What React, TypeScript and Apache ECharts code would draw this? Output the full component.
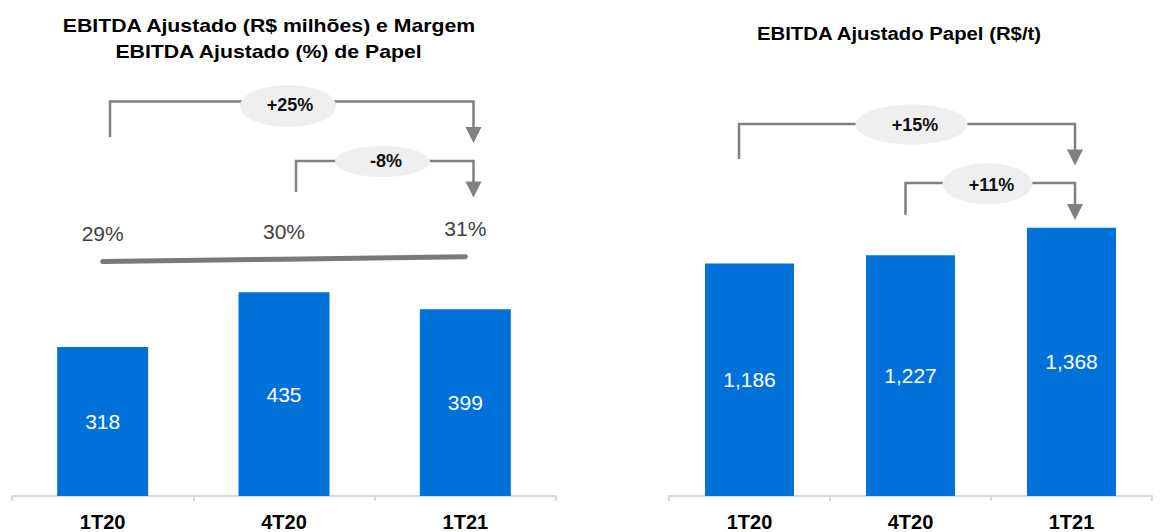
import React, { useEffect, useRef } from "react";
import * as echarts from "echarts";

const categories = ["1T20", "4T20", "1T21"];
const ebitdaValues = [318, 435, 399];
const marginValues = [29, 30, 31];
const perTonValues = [1186, 1227, 1368];

const leftTitleLines = ["EBITDA Ajustado (R$ milhões) e Margem", "EBITDA Ajustado (%) de Papel"];
const rightTitle = "EBITDA Ajustado Papel (R$/t)";
const leftChanges = ["+25%", "-8%"];
const rightChanges = ["+15%", "+11%"];

const FONT = '"Liberation Sans", Arial, Helvetica, sans-serif';
const BAR_COLOR = "#0071D9";
const GREY = "#808080";
const ELLIPSE = "#EFEFEF";

type Bracket = {
  x1: number; y1: number; x2: number; yh: number; yArrow: number;
  cx: number; cy: number; rx: number; ry: number; tx: number; ty: number; text: string;
};

function bracketEls(b: Bracket): any[] {
  return [
    {
      type: "polyline",
      z: 10,
      shape: { points: [[b.x1, b.y1], [b.x1, b.yh], [b.x2, b.yh], [b.x2, b.yArrow + 1]] },
      style: { stroke: GREY, lineWidth: 2.5, fill: null },
    },
    {
      type: "polygon",
      z: 10,
      shape: { points: [[b.x2 - 8, b.yArrow], [b.x2 + 8, b.yArrow], [b.x2, b.yArrow + 16]] },
      style: { fill: GREY },
    },
    {
      type: "ellipse",
      z: 11,
      shape: { cx: b.cx, cy: b.cy, rx: b.rx, ry: b.ry },
      style: { fill: ELLIPSE },
    },
    {
      type: "text",
      z: 12,
      x: b.tx,
      y: b.ty,
      style: {
        text: b.text,
        fill: "#111",
        font: `bold 18px ${FONT}`,
        textAlign: "center",
        textVerticalAlign: "middle",
      },
    },
  ];
}

export default function App() {
  const ref = useRef<HTMLDivElement>(null);

  useEffect(() => {
    document.body.style.margin = "0";
    if (!ref.current) return;
    const chart = echarts.init(ref.current, null, { renderer: "svg" });

    const xAxisCommon = {
      type: "category" as const,
      data: categories,
      axisLine: { show: true, lineStyle: { color: "#D9D9D9", width: 2 } },
      axisTick: { show: true, length: 5, lineStyle: { color: "#D9D9D9", width: 2 } },
      axisLabel: {
        fontSize: 20,
        fontWeight: "bold",
        color: "#000",
        fontFamily: FONT,
        margin: 16,
      },
      splitLine: { show: false },
    };

    const brackets: Bracket[] = [
      { x1: 110, y1: 137, x2: 473.5, yh: 101.5, yArrow: 127, cx: 288, cy: 106, rx: 48, ry: 21, tx: 290, ty: 104.5, text: leftChanges[0] },
      { x1: 296, y1: 192, x2: 473.5, yh: 161, yArrow: 181.5, cx: 382.5, cy: 161.5, rx: 47.5, ry: 15.5, tx: 386, ty: 160.5, text: leftChanges[1] },
      { x1: 739, y1: 159, x2: 1075, yh: 124, yArrow: 149.5, cx: 911.5, cy: 124.5, rx: 56, ry: 20, tx: 915, ty: 124.5, text: rightChanges[0] },
      { x1: 905.5, y1: 215, x2: 1075, yh: 183, yArrow: 204, cx: 987.5, cy: 183.8, rx: 45, ry: 20.5, tx: 991.5, ty: 184.5, text: rightChanges[1] },
    ];

    const titleEl = (text: string, x: number, y: number, sx: number) => ({
      type: "text",
      x,
      y,
      scaleX: sx,
      style: {
        text,
        fill: "#000",
        font: `bold 18px ${FONT}`,
        textAlign: "center",
        textVerticalAlign: "middle",
      },
    });

    chart.setOption({
      animation: false,
      backgroundColor: "#fff",
      grid: [
        { left: 12, width: 544, top: 90, bottom: 32, containLabel: false },
        { left: 669, width: 483, top: 90, bottom: 32, containLabel: false },
      ],
      xAxis: [
        { ...xAxisCommon, gridIndex: 0 },
        { ...xAxisCommon, gridIndex: 1 },
      ],
      yAxis: [
        { type: "value", gridIndex: 0, min: 0, max: 867, show: false, splitLine: { show: false } },
        { type: "value", gridIndex: 0, min: -65.68, max: 98.32, show: false, splitLine: { show: false } },
        { type: "value", gridIndex: 1, min: 0, max: 2070, show: false, splitLine: { show: false } },
      ],
      series: [
        {
          type: "bar",
          xAxisIndex: 0,
          yAxisIndex: 0,
          data: ebitdaValues,
          barWidth: 91,
          itemStyle: { color: BAR_COLOR },
          label: {
            show: true,
            position: "inside",
            color: "#fff",
            fontSize: 21,
            fontFamily: FONT,
          },
        },
        {
          type: "line",
          xAxisIndex: 0,
          yAxisIndex: 1,
          data: marginValues,
          symbol: "circle",
          symbolSize: 1,
          itemStyle: { color: "rgba(0,0,0,0)" },
          lineStyle: { color: "#7A7A7A", width: 5, cap: "round" },
          label: {
            show: true,
            position: "top",
            distance: 17,
            formatter: "{c}%",
            color: "#404040",
            fontSize: 21,
            fontFamily: FONT,
          },
          z: 5,
        },
        {
          type: "bar",
          xAxisIndex: 1,
          yAxisIndex: 2,
          data: perTonValues,
          barWidth: 89,
          itemStyle: { color: BAR_COLOR },
          label: {
            show: true,
            position: "inside",
            color: "#fff",
            fontSize: 21,
            fontFamily: FONT,
            formatter: (p: any) => Number(p.value).toLocaleString("en-US"),
          },
        },
      ],
      graphic: [
        titleEl(leftTitleLines[0], 269, 26, 1.18),
        titleEl(leftTitleLines[1], 268.5, 51.5, 1.18),
        titleEl(rightTitle, 899, 34, 1.13),
        ...brackets.flatMap(bracketEls),
      ],
    });

    return () => {
      chart.dispose();
    };
  }, []);

  return <div ref={ref} style={{ width: 1168, height: 532 }} />;
}
